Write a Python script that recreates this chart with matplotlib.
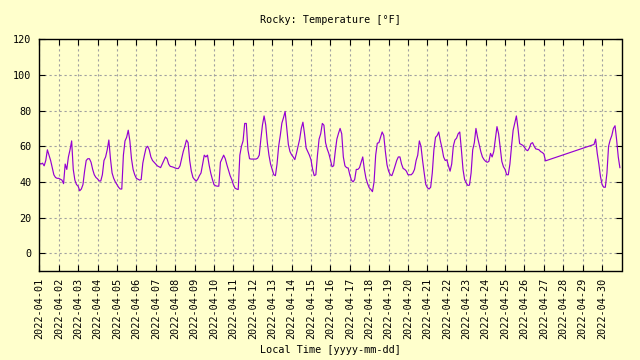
import pandas as pd
import matplotlib
matplotlib.use('Agg')
import matplotlib.pyplot as plt
import matplotlib.dates as mdates

# Temperature readings every 2 hours [°F]
# Apr 1 - Apr 7
temps_week1 = [
    50.5, 50, 50.5, 49, 52, 58, 55, 52, 48, 44, 42.5, 42,
    42, 41.5, 41, 39, 50, 47, 54, 58, 63, 47, 41, 38.5,
    37.6, 35, 36, 38.5, 46, 52, 53, 53, 51, 47, 44, 42.5,
    41.7, 40.5, 40.5, 44, 52, 54, 58, 63.5, 53, 45, 42, 40,
    38.5, 37, 36, 36, 55, 63, 65, 69, 63, 53, 47, 44,
    42, 41.5, 41, 41.3, 50.5, 55, 59, 60, 58, 54, 52, 51,
    50, 49, 48.5, 48, 50, 52, 54, 53, 50, 48.7, 48.5, 48.2,
]
# Apr 8 - Apr 14
temps_week2 = [
    47.8, 47.5, 47.5, 49, 53, 57, 60, 63.5, 62, 52, 46, 42.5,
    41.3, 40.4, 41.5, 43.5, 45, 50, 55, 54, 55, 49.5, 45, 41.5,
    38.5, 37.8, 37.6, 37.6, 51, 53, 55, 53, 49.6, 46.5, 43.5, 41.3,
    38.5, 36.5, 36, 35.7, 55, 60, 63, 72.8, 72.8, 58, 53, 52.8,
    52.8, 52.8, 52.8, 53.3, 55, 64, 72, 77, 72, 62, 55, 50,
    47, 44, 43.5, 50, 60, 66, 73, 76, 79.5, 70, 61, 57,
    55.2, 54, 52.5, 56, 60, 64, 70, 73.5, 67, 59, 57, 55,
]
# Apr 15 - Apr 21
temps_week3 = [
    52.4, 47, 43.5, 44, 55, 64, 67, 72.8, 71.8, 62, 58.5, 56,
    52.4, 48.5, 49, 57, 64, 67.2, 70, 67, 54, 49, 48, 47.8,
    44, 41, 40, 41.3, 47, 47, 48, 51, 54, 47, 42, 39,
    36.7, 35.8, 34.5, 40, 55, 61.7, 62, 65, 68, 66, 57, 49.6,
    46, 44, 43.5, 46, 49, 52, 54, 54, 50, 47.5, 47, 46,
    44, 44, 44, 45, 47, 52, 55, 63, 60, 52, 45, 38.5,
    36.7, 36, 37, 45, 58, 65, 66, 68, 63, 59, 54, 52,
]
# Apr 22 - Apr 27 02:00
temps_week4 = [
    52.4, 49, 46, 50, 60, 63.5, 64.5, 67, 68, 58, 47, 41.3,
    39.4, 38, 38.2, 45, 58, 62, 70, 65, 61, 57, 54, 52.5,
    51.5, 51, 51.5, 56, 54, 57, 64, 71, 67, 59, 51.5, 48.5,
    47, 44, 44, 50, 60, 69, 73, 77, 70, 61.5, 61, 60.5,
    59.4, 58, 57.5, 59, 61.5, 62, 60, 58.5, 58.3, 58, 57, 56.5,
    55.7, 51.8,
]
# after the data gap: Apr 29 14:00 - Apr 30 22:00
temps_tail = [61, 64, 56, 50, 43,
              38.5, 37, 37, 45, 60, 63.5, 66, 70, 71.5, 63.5, 54, 48]

main_temps = temps_week1 + temps_week2 + temps_week3 + temps_week4
main_times = pd.date_range('2022-04-01 00:00', periods=len(main_temps), freq='2h')
tail_times = pd.date_range('2022-04-29 14:00', periods=len(temps_tail), freq='2h')
times = main_times.append(tail_times)
temps = main_temps + temps_tail

day_ticks = pd.date_range('2022-04-01', '2022-04-30', freq='D')

bg = '#ffffcc'
mono = 'DejaVu Sans Mono'

fig = plt.figure(figsize=(6.4, 3.6), dpi=100, facecolor=bg)
ax = fig.add_axes([39.3 / 640, 1 - 271 / 360, (621.5 - 39.3) / 640, (271 - 39.3) / 360])
ax.set_facecolor(bg)

ax.plot(times, temps, color='#9400d3', linewidth=0.85)

ax.set_xlim(pd.Timestamp('2022-04-01'), pd.Timestamp('2022-05-01'))
ax.set_ylim(-10, 120)
ax.set_yticks([0, 20, 40, 60, 80, 100, 120])
ax.set_xticks(day_ticks)
ax.xaxis.set_major_formatter(mdates.DateFormatter('%Y-%m-%d'))

ax.grid(True, color='#a0a0a0', linestyle=(0, (2, 2.5)), linewidth=0.8)
ax.set_axisbelow(True)

ax.tick_params(direction='in', length=4, width=0.8, top=True, right=True,
               labelsize=7.3, colors='black')
ax.tick_params(axis='y', pad=5.5)
ax.tick_params(axis='x', pad=5, labelrotation=90)
for lab in ax.get_xticklabels() + ax.get_yticklabels():
    lab.set_family(mono)
for sp in ax.spines.values():
    sp.set_linewidth(1.0)
    sp.set_color('black')

fig.text(330 / 640, 1 - 20 / 360, 'Rocky: Temperature [°F]', ha='center', va='center',
         fontsize=7.3, family=mono)
fig.text(330 / 640, 1 - 350 / 360, 'Local Time [yyyy-mm-dd]', ha='center', va='center',
         fontsize=7.3, family=mono)

fig.savefig('out.png', dpi=100, facecolor=bg)
